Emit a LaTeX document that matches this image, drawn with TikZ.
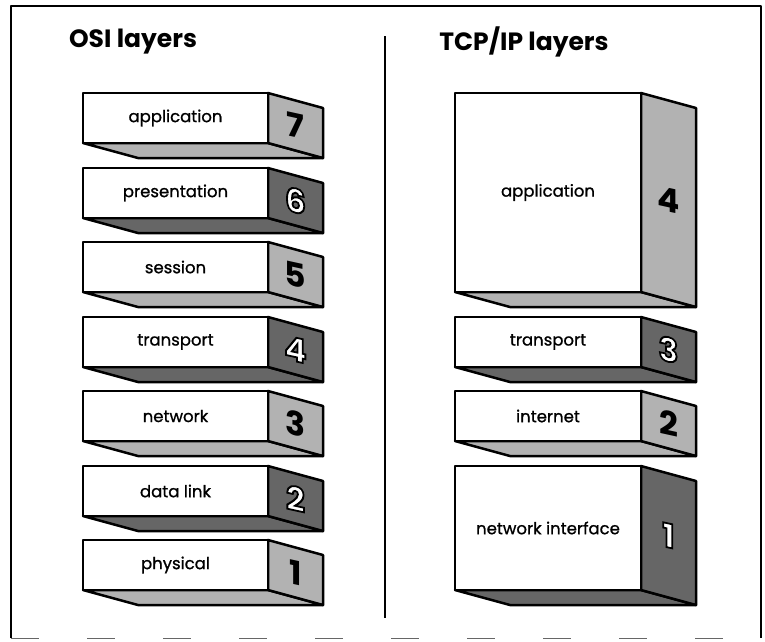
\documentclass[tikz,border=0pt]{standalone}
\usepackage{fontspec}
\setmainfont{Poppins}
\newfontfamily\labelfont{Poppins}[FakeBold=1.0]
\usetikzlibrary{calc}

% digit filled white and stroked black (text render mode 2)
\newcommand{\ringed}[1]{\textcolor{white}{\special{pdf:literal direct 0 0 0 RG 1.8 w 2 Tr}#1\special{pdf:literal direct 0 Tr}}}

\tikzset{
  edge/.style={draw=black, line width=2.5pt, line join=round},
  lightshade/.style={fill=black!30},
  darkshade/.style={fill=black!60},
  layerlabel/.style={font=\labelfont\fontsize{16.5}{18}\selectfont},
  layerdigit/.style={font=\fontsize{33}{35}\selectfont\bfseries, yslant=-0.22},
  heading/.style={font=\fontsize{25}{28}\selectfont\bfseries},
}

% #1 left, #2 right, #3 top, #4 bottom, #5 label, #6 digit text, #7 shade, #8 name
\newcommand{\layerbox}[8]{%
  \coordinate (#8-tl) at (#1,#3);
  \coordinate (#8-tr) at (#2,#3);
  \coordinate (#8-br) at (#2,#4);
  \coordinate (#8-bl) at (#1,#4);
  \coordinate (#8-str) at (#2+55,#3+15);
  \coordinate (#8-sbr) at (#2+55,#4+15);
  \coordinate (#8-sbl) at (#1+55,#4+15);
  \filldraw[edge,#7] (#8-bl) -- (#8-br) -- (#8-sbr) -- (#8-sbl) -- cycle;
  \filldraw[edge,#7] (#8-tr) -- (#8-str) -- (#8-sbr) -- (#8-br) -- cycle;
  \filldraw[edge,fill=white] (#8-tl) rectangle (#8-br);
  \node[layerlabel] (#8-text) at ($(#8-tl)!0.5!(#8-br)$) {#5};
  \node[layerdigit] (#8-num) at ($(#8-tr)!0.5!(#8-sbr)$) {#6};
}

\begin{document}
\begin{tikzpicture}[x=1pt,y=-1pt]
\useasboundingbox (0,0) rectangle (765,641);

% frame
\draw[line width=2.3pt, line join=round] (11,638) -- (11,6) -- (761,6) -- (761,638);
\draw[black!60, line width=1pt, dash pattern=on 28pt off 48pt] (11,638) -- (761,638);

% divider
\coordinate (divtop) at (385,36);
\coordinate (divbot) at (385,618);
\draw[line width=2.5pt] (divtop) -- (divbot);

% headings
\node[heading] (osihead) at (133,42) {OSI layers};
\node[heading] (tcphead) at (524,42) {TCP/IP layers};

% OSI stack
\layerbox{83}{268}{93}{143}{application}{7}{lightshade}{o7}
\layerbox{83}{268}{168}{218}{presentation}{\ringed{6}}{darkshade}{o6}
\layerbox{83}{268}{242}{292}{session}{5}{lightshade}{o5}
\layerbox{83}{268}{317}{367}{transport}{\ringed{4}}{darkshade}{o4}
\layerbox{83}{268}{391}{441}{network}{3}{lightshade}{o3}
\layerbox{83}{268}{466}{516}{data link}{\ringed{2}}{darkshade}{o2}
\layerbox{83}{268}{540}{590}{physical}{1}{lightshade}{o1}

% TCP/IP stack
\layerbox{455}{641}{93}{292}{application}{4}{lightshade}{t4}
\layerbox{455}{641}{317}{367}{transport}{\ringed{3}}{darkshade}{t3}
\layerbox{455}{641}{391}{441}{internet}{2}{lightshade}{t2}
\layerbox{455}{641}{466}{590}{network interface}{\ringed{1}}{darkshade}{t1}
\end{tikzpicture}
\end{document}
